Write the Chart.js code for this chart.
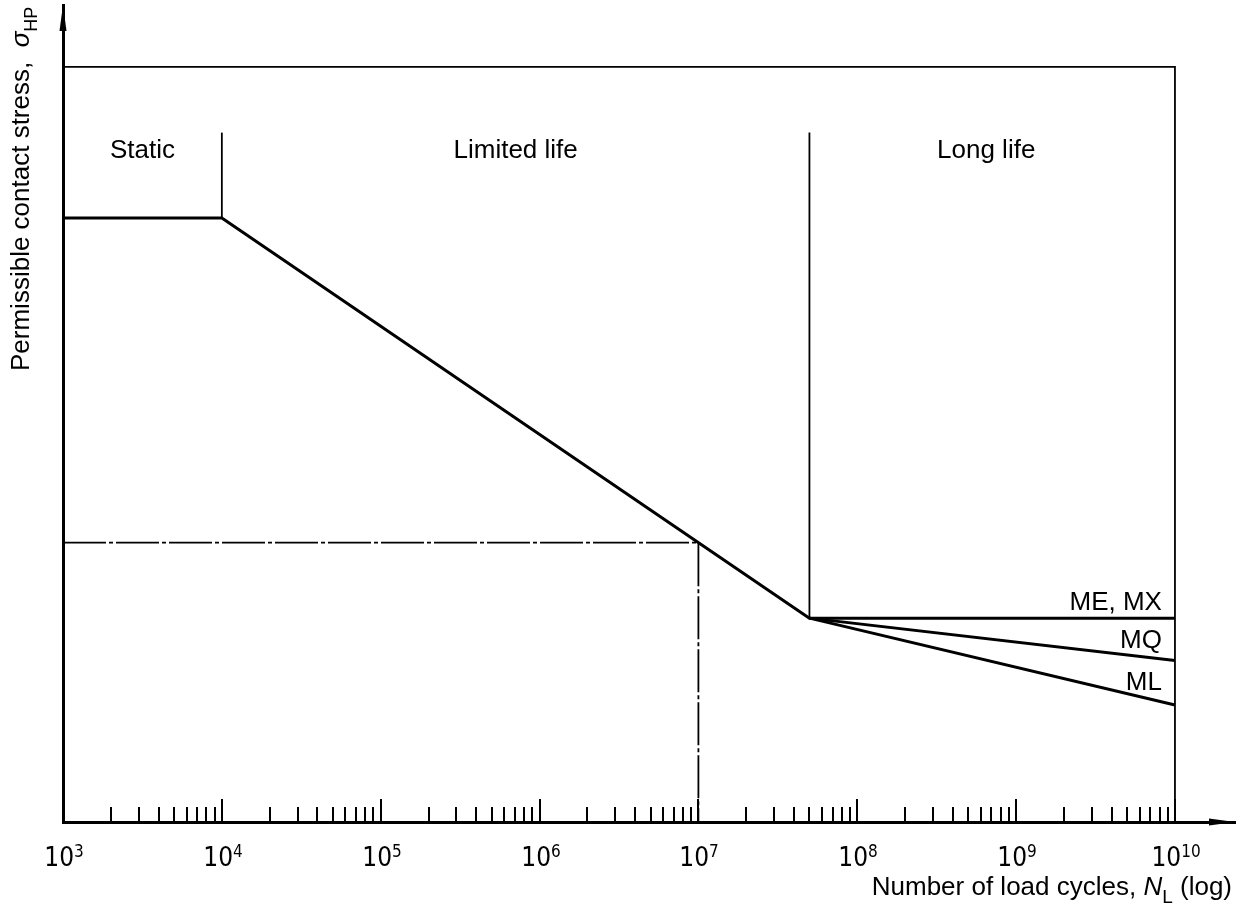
<!DOCTYPE html>
<html>
<head>
<meta charset="utf-8">
<script src="https://cdn.jsdelivr.net/npm/chart.js@4.4.0/dist/chart.umd.min.js"></script>
<style>
  html, body { margin: 0; padding: 0; background: #fff; }
  #wrap { width: 1239px; height: 911px; }
</style>
</head>
<body>
<div id="wrap"><canvas id="myChart"></canvas></div>
<script>
// load cycles N (log x) and stress in relative units (frame top = 100)
var decades = [3, 4, 5, 6, 7, 8, 9, 10];
var curveN = [1e3, 1e4, 5e7, 1e10];
var curveS = [80, 80, 27, 27];
var mqN = [5e7, 1e10];
var mqS = [27, 21.4];
var mlN = [5e7, 1e10];
var mlS = [27, 15.5];
var refN = [1e3, 1e7, 1e7];
var refS = [37, 37, 0];
var frameN = [1e3, 1e10, 1e10];
var frameS = [100, 100, 0];
var dividerN = [1e4, 5e7];
var dividerLow = [80, 27];
var dividerTop = 91.3;
var regionNames = ['Static', 'Limited life', 'Long life'];
var regionBounds = [1e3, 1e4, 5e7, 1e10];
var endNames = ['ME, MX', 'MQ', 'ML'];
var endFrom = [27, 27, 27];
var endTo = [27, 21.4, 15.5];

var FONT = '"Liberation Sans", Arial, sans-serif';
var NARROW = '"Liberation Sans Narrow", "Arial Narrow", "DejaVu Sans Condensed", sans-serif';

function pts(xs, ys) {
    return xs.map(function (x, i) { return { x: x, y: ys[i] }; });
}
function line(data, width, dash) {
    return { data: data, borderColor: '#000', borderWidth: width, borderDash: dash || [],
             pointRadius: 0, fill: false, tension: 0 };
}

// text pieces: [text, font, baseline shift]
function rich(ctx, parts, x, y) {
    parts.forEach(function (p) {
        ctx.font = p[1];
        ctx.fillText(p[0], x, y + p[2]);
        x += ctx.measureText(p[0]).width;
    });
}
function richWidth(ctx, parts) {
    var w = 0;
    parts.forEach(function (p) { ctx.font = p[1]; w += ctx.measureText(p[0]).width; });
    return w;
}

var decor = {
    id: 'decor',
    afterDraw: function (chart) {
        var ctx = chart.ctx, xs = chart.scales.x, ys = chart.scales.y, a = chart.chartArea;
        ctx.save();
        ctx.fillStyle = '#000';
        ctx.strokeStyle = '#000';
        ctx.textBaseline = 'alphabetic';

        // inward tick marks and decade labels
        ctx.lineWidth = 2;
        xs.ticks.forEach(function (t) {
            var px = Math.round(xs.getPixelForValue(t.value));
            ctx.beginPath();
            ctx.moveTo(px, a.bottom);
            ctx.lineTo(px, a.bottom - (t.major ? 23 : 15));
            ctx.stroke();
            if (t.major) {
                var e = String(Math.round(Math.log10(t.value)));
                var lab = [['10', '26px ' + NARROW, 0], [e, '17px ' + NARROW, -9]];
                rich(ctx, lab, px - richWidth(ctx, lab) / 2 + 1, a.bottom + 44);
            }
        });

        // arrow heads
        ctx.beginPath();
        ctx.moveTo(a.left, a.top);
        ctx.lineTo(a.left - 3.5, a.top + 26);
        ctx.lineTo(a.left + 3.5, a.top + 26);
        ctx.closePath();
        ctx.fill();
        ctx.beginPath();
        ctx.moveTo(a.right, a.bottom);
        ctx.lineTo(a.right - 26, a.bottom - 3.5);
        ctx.lineTo(a.right - 26, a.bottom + 3.5);
        ctx.closePath();
        ctx.fill();

        // region names
        ctx.font = '26px ' + FONT;
        ctx.textAlign = 'center';
        var ly = ys.getPixelForValue(dividerTop) + 25;
        regionNames.forEach(function (name, i) {
            var mid = Math.pow(10, (Math.log10(regionBounds[i]) + Math.log10(regionBounds[i + 1])) / 2);
            ctx.fillText(name, xs.getPixelForValue(mid) - (i === 2 ? 6 : 0), ly);
        });

        // curve names at the right end
        ctx.textAlign = 'right';
        var x0 = xs.getPixelForValue(5e7), x1 = xs.getPixelForValue(1e10);
        var rx = x1 - 13;
        endNames.forEach(function (name, i) {
            var w = ctx.measureText(name).width;
            var cx = rx - w / 2;
            var y0 = ys.getPixelForValue(endFrom[i]), y1 = ys.getPixelForValue(endTo[i]);
            var yy = y0 + (y1 - y0) * (cx - x0) / (x1 - x0);
            ctx.fillText(name, rx, yy - 8);
        });

        // x axis title
        ctx.textAlign = 'left';
        var xt = [
            ['Number of load cycles, ', '26px ' + FONT, 0],
            ['N', 'italic 26px ' + FONT, 0],
            ['L', '19px ' + FONT, 8],
            [' (log)', '26px ' + FONT, 0]
        ];
        rich(ctx, xt, a.right - 3 - richWidth(ctx, xt), a.bottom + 73);

        // y axis title
        var yt = [
            ['Permissible contact stress,  ', '26px ' + FONT, 0],
            ['σ', 'italic 26px ' + FONT, 0],
            ['HP', '18px ' + FONT, 8]
        ];
        ctx.translate(29, 371);
        ctx.rotate(-Math.PI / 2);
        rich(ctx, yt, 0, 0);
        ctx.restore();
    }
};

new Chart('myChart', {
    type: 'line',
    data: {
        datasets: [
            line(pts(frameN, frameS), 1.8),
            line(pts([dividerN[0], dividerN[0]], [dividerLow[0], dividerTop]), 1.8),
            line(pts([dividerN[1], dividerN[1]], [dividerLow[1], dividerTop]), 1.8),
            line(pts(refN, refS), 1.8, [43, 3, 4, 3]),
            line(pts(curveN, curveS), 3),
            line(pts(mqN, mqS), 3),
            line(pts(mlN, mlS), 3)
        ]
    },
    options: {
        responsive: true,
        maintainAspectRatio: false,
        animation: false,
        layout: { padding: { top: 5, right: 4, left: 0, bottom: 0 } },
        plugins: { legend: { display: false }, tooltip: { enabled: false } },
        scales: {
            x: {
                type: 'logarithmic',
                min: 1e3,
                max: Math.pow(10, 10.378),
                grid: { display: false },
                border: { display: true, color: '#000', width: 3 },
                ticks: { display: false, autoSkip: false },
                afterBuildTicks: function (s) {
                    var t = [];
                    decades.forEach(function (d) {
                        t.push({ value: Math.pow(10, d), major: true });
                        if (d < 10) {
                            for (var m = 2; m < 10; m++) t.push({ value: m * Math.pow(10, d) });
                        }
                    });
                    s.ticks = t;
                },
                afterFit: function (s) { s.height = 89; }
            },
            y: {
                type: 'linear',
                min: 0,
                max: 108.2,
                grid: { display: false },
                border: { display: true, color: '#000', width: 3 },
                ticks: { display: false },
                afterFit: function (s) { s.width = 63; }
            }
        }
    },
    plugins: [decor]
});
</script>
</body>
</html>
